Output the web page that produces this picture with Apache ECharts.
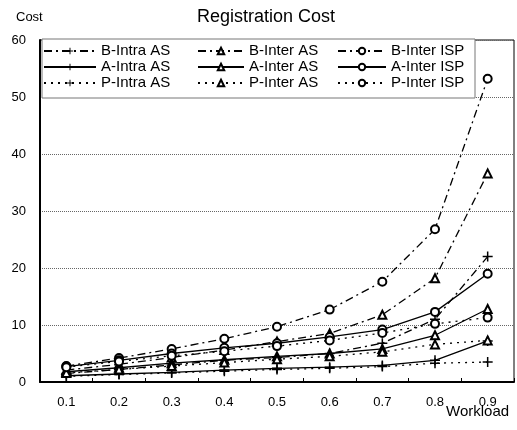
<!DOCTYPE html>
<html>
<head>
<meta charset="utf-8">
<script src="https://cdn.jsdelivr.net/npm/echarts@6/dist/echarts.min.js"></script>
<style>
  html, body { margin: 0; padding: 0; background: #fff; }
  #main { width: 517px; height: 430px; }
</style>
</head>
<body>
<div id="main"></div>
<script>
// 横轴：负载
var workload = ['0.1', '0.2', '0.3', '0.4', '0.5', '0.6', '0.7', '0.8', '0.9'];

// B 系列（点划线）
var bIntraAS  = [1.5, 2.2, 3.0, 3.8, 4.3, 5.0, 6.8, 11.0, 22.0];
var bInterAS  = [2.1, 3.1, 4.3, 5.6, 7.1, 8.5, 11.8, 18.2, 36.6];
var bInterISP = [2.8, 4.2, 5.8, 7.6, 9.7, 12.7, 17.6, 26.8, 53.2];
// A 系列（实线）
var aIntraAS  = [1.1, 1.4, 1.7, 2.1, 2.4, 2.6, 2.9, 3.8, 7.2];
var aInterAS  = [1.8, 2.5, 3.3, 3.9, 4.5, 5.0, 5.8, 8.2, 12.8];
var aInterISP = [2.7, 3.8, 5.0, 6.0, 6.8, 7.9, 9.2, 12.3, 19.0];
// P 系列（点线）
var pIntraAS  = [1.0, 1.3, 1.6, 1.9, 2.2, 2.4, 2.7, 3.3, 3.5];
var pInterAS  = [1.6, 2.2, 2.8, 3.4, 4.0, 4.5, 5.3, 6.6, 7.3];
var pInterISP = [2.6, 3.6, 4.6, 5.4, 6.3, 7.3, 8.6, 10.2, 11.3];

var yTicks = [0, 10, 20, 30, 40, 50, 60];

var FONT = 'Liberation Sans, Arial, sans-serif';
var PLUS = 'path://M8.5,0H11.5V8.5H20V11.5H11.5V20H8.5V11.5H0V8.5H8.5Z';
var DASHDOT = [8, 4, 2, 4];
var DOTTED = [2, 5];

function mkLine(name, data, dash, symbol){
    var isPlus = symbol === PLUS;
    return {
        name: name,
        type: 'line',
        data: data,
        symbol: symbol,
        symbolSize: isPlus ? 10 : 8,
        showAllSymbol: true,
        lineStyle: { color: '#000', width: 1.3, type: dash },
        itemStyle: { color: '#000', borderColor: '#000', borderWidth: isPlus ? 0 : 1.3 },
        emphasis: { disabled: true },
        z: 3
    };
}

function mkLegend(left, itemWidth, names){
    return {
        orient: 'vertical',
        left: left,
        top: 43,
        padding: 0,
        itemGap: 0,
        itemWidth: itemWidth,
        itemHeight: 8,
        selectedMode: false,
        data: names,
        textStyle: { fontFamily: FONT, fontSize: 15, color: '#000', lineHeight: 16 }
    };
}

var dom = document.getElementById('main');
var myChart = echarts.init(dom, null, { renderer: 'canvas' });
myChart.setOption({
    animation: false,
    backgroundColor: '#fff',
    title: [
        { text: 'Registration Cost', left: 192, top: 3,
          textStyle: { fontFamily: FONT, fontSize: 18, fontWeight: 'normal', color: '#000' } },
        { text: 'Cost', left: 11, top: 6,
          textStyle: { fontFamily: FONT, fontSize: 13, fontWeight: 'normal', color: '#000' } },
        { text: 'Workload', left: 441, top: 399,
          textStyle: { fontFamily: FONT, fontSize: 15, fontWeight: 'normal', color: '#000' } }
    ],
    graphic: [{
        type: 'rect',
        shape: { x: 42, y: 39, width: 433, height: 59 },
        style: { fill: '#fff', stroke: '#777', lineWidth: 1 },
        z: 1
    }],
    legend: [
        mkLegend(43, 52, ['B-Intra AS', 'A-Intra AS', 'P-Intra AS']),
        mkLegend(197, 46, ['B-Inter AS', 'A-Inter AS', 'P-Inter AS']),
        mkLegend(337, 48, ['B-Inter ISP', 'A-Inter ISP', 'P-Inter ISP'])
    ],
    grid: {
        left: 40, right: 3, top: 40, bottom: 48,
        show: true, borderColor: '#000', borderWidth: 1
    },
    xAxis: {
        type: 'category',
        data: workload,
        boundaryGap: true,
        axisLine: { lineStyle: { color: '#000', width: 2 } },
        axisTick: { show: true, inside: true, length: 4, lineStyle: { color: '#000' } },
        axisLabel: { color: '#000', fontFamily: FONT, fontSize: 13, margin: 14 },
        splitLine: { show: false }
    },
    yAxis: {
        type: 'value',
        min: yTicks[0],
        max: yTicks[yTicks.length - 1],
        interval: 10,
        axisLine: { show: true, lineStyle: { color: '#000', width: 2 } },
        axisTick: { show: false },
        axisLabel: { color: '#000', fontFamily: FONT, fontSize: 13, margin: 14 },
        splitLine: { show: true, lineStyle: { color: '#666', type: 'dotted', width: 1 } }
    },
    series: [
        mkLine('B-Intra AS', bIntraAS, DASHDOT, PLUS),
        mkLine('B-Inter AS', bInterAS, DASHDOT, 'emptyTriangle'),
        mkLine('B-Inter ISP', bInterISP, DASHDOT, 'emptyCircle'),
        mkLine('A-Intra AS', aIntraAS, 'solid', PLUS),
        mkLine('A-Inter AS', aInterAS, 'solid', 'emptyTriangle'),
        mkLine('A-Inter ISP', aInterISP, 'solid', 'emptyCircle'),
        mkLine('P-Intra AS', pIntraAS, DOTTED, PLUS),
        mkLine('P-Inter AS', pInterAS, DOTTED, 'emptyTriangle'),
        mkLine('P-Inter ISP', pInterISP, DOTTED, 'emptyCircle')
    ]
});
window.addEventListener('resize', function(){
    myChart.resize();
});
</script>
</body>
</html>
